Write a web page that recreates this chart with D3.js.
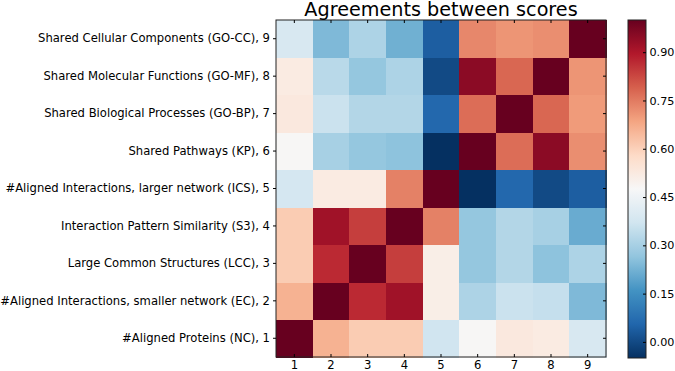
<!DOCTYPE html>
<html>
<head>
<meta charset="utf-8">
<script src="https://cdn.jsdelivr.net/npm/d3@7"></script>
<style>
  html, body { margin: 0; padding: 0; background: #fff; }
  svg { display: block; font-family: "DejaVu Sans", sans-serif; }
</style>
</head>
<body>
<svg id="chart" width="675" height="371"></svg>
<script>
// Row/column labels (index 1..9)
const labels = [
  "#Aligned Proteins (NC), 1",
  "#Aligned Interactions, smaller network (EC), 2",
  "Large Common Structures (LCC), 3",
  "Interaction Pattern Similarity (S3), 4",
  "#Aligned Interactions, larger network (ICS), 5",
  "Shared Pathways (KP), 6",
  "Shared Biological Processes (GO-BP), 7",
  "Shared Molecular Functions (GO-MF), 8",
  "Shared Cellular Components (GO-CC), 9"
];
const columnTicks = ["1", "2", "3", "4", "5", "6", "7", "8", "9"];

// Agreement values, one array per row (columns 1..9)
const row1 = [1.00, 0.66, 0.61, 0.61, 0.37, 0.48, 0.53, 0.52, 0.39];
const row2 = [0.66, 1.00, 0.87, 0.92, 0.51, 0.31, 0.36, 0.35, 0.24];
const row3 = [0.61, 0.87, 1.00, 0.84, 0.51, 0.27, 0.32, 0.26, 0.31];
const row4 = [0.61, 0.92, 0.84, 1.00, 0.74, 0.27, 0.32, 0.30, 0.21];
const row5 = [0.38, 0.52, 0.52, 0.74, 1.00, -0.05, 0.06, 0.00, 0.04];
const row6 = [0.48, 0.30, 0.27, 0.26, -0.05, 1.00, 0.77, 0.95, 0.72];
const row7 = [0.53, 0.36, 0.32, 0.32, 0.06, 0.77, 1.00, 0.78, 0.70];
const row8 = [0.52, 0.33, 0.27, 0.31, 0.00, 0.95, 0.78, 1.00, 0.71];
const row9 = [0.39, 0.24, 0.31, 0.22, 0.04, 0.73, 0.71, 0.72, 1.00];
const rows = [row1, row2, row3, row4, row5, row6, row7, row8, row9];

const colorTicks = [0.00, 0.15, 0.30, 0.45, 0.60, 0.75, 0.90];
const vmin = -0.05, vmax = 1.0;

// matplotlib RdBu_r (piecewise linear through ColorBrewer stops)
const rdbuR = ["#053061","#2166ac","#4393c3","#92c5de","#d1e5f0","#f7f7f7",
               "#fddbc7","#f4a582","#d6604d","#b2182b","#67001f"];
const cmap = d3.scaleLinear()
  .domain(d3.range(11).map(i => vmin + (vmax - vmin) * i / 10))
  .range(rdbuR)
  .interpolate(d3.interpolateRgb)
  .clamp(true);

const svg = d3.select("#chart");
const L = 276, R = 606, T = 20, B = 357;

const cells = [];
rows.forEach((r, i) => r.forEach((v, j) => cells.push({row: i, col: j, v})));

const x = d3.scaleBand().domain(d3.range(9)).range([L, R]).padding(0);
const y = d3.scaleBand().domain(d3.range(9)).range([B, T]).padding(0);

svg.append("g").selectAll("rect").data(cells).join("rect")
  .attr("x", d => x(d.col))
  .attr("y", d => y(d.row))
  .attr("width", x.bandwidth() + 0.5)
  .attr("height", y.bandwidth() + 0.5)
  .attr("fill", d => cmap(d.v))
  .attr("shape-rendering", "crispEdges");

// frame
svg.append("rect").attr("x", L).attr("y", T).attr("width", R - L).attr("height", B - T)
  .attr("fill", "none").attr("stroke", "#222").attr("stroke-width", 1);

const fs = 11.6;
// bottom axis (inward ticks)
const xAxis = d3.axisBottom(x).tickFormat(i => columnTicks[i]).tickSizeInner(-3).tickSizeOuter(0).tickPadding(4);
const gx = svg.append("g").attr("transform", `translate(0,${B})`).call(xAxis);
gx.select(".domain").remove();
gx.selectAll("text").attr("font-size", fs).attr("fill", "#000").attr("font-family", "DejaVu Sans");
gx.selectAll("line").attr("stroke", "#000");

// top ticks (inward)
const xTop = d3.axisTop(x).tickFormat("").tickSizeInner(-3).tickSizeOuter(0);
const gxt = svg.append("g").attr("transform", `translate(0,${T})`).call(xTop);
gxt.select(".domain").remove();
gxt.selectAll("line").attr("stroke", "#000");

// left axis
const yAxis = d3.axisLeft(y).tickFormat(i => labels[i]).tickSizeInner(3).tickSizeOuter(0).tickPadding(3);
const gy = svg.append("g").attr("transform", `translate(${L},0)`).call(yAxis);
gy.select(".domain").remove();
gy.selectAll("text").attr("font-size", fs).attr("fill", "#000").attr("font-family", "DejaVu Sans");
gy.selectAll("line").attr("stroke", "#000");

// right ticks inward
const yRight = d3.axisRight(y).tickFormat("").tickSizeInner(-3).tickSizeOuter(0);
const gyr = svg.append("g").attr("transform", `translate(${R},0)`).call(yRight);
gyr.select(".domain").remove();
gyr.selectAll("line").attr("stroke", "#000");

// title
svg.append("text").attr("x", (L + R) / 2).attr("y", 15.5)
  .attr("text-anchor", "middle").attr("font-size", 19.2).attr("fill", "#000")
  .text("Agreements between scores");

// colorbar
const CL = 628, CR = 646, CT = 20, CB = 358;
const cy = d3.scaleLinear().domain([vmin, vmax]).range([CB, CT]);
const defs = svg.append("defs");
const grad = defs.append("linearGradient").attr("id", "cbar")
  .attr("x1", 0).attr("y1", 1).attr("x2", 0).attr("y2", 0);
d3.range(0, 1.0001, 0.02).forEach(t => {
  grad.append("stop").attr("offset", t).attr("stop-color", cmap(vmin + t * (vmax - vmin)));
});
svg.append("rect").attr("x", CL).attr("y", CT).attr("width", CR - CL).attr("height", CB - CT)
  .attr("fill", "url(#cbar)").attr("stroke", "#222").attr("stroke-width", 1);

const cAxis = d3.axisRight(cy).tickValues(colorTicks).tickFormat(d3.format(".2f"))
  .tickSizeInner(-3).tickSizeOuter(0).tickPadding(3.5);
const gc = svg.append("g").attr("transform", `translate(${CR},0)`).call(cAxis);
gc.select(".domain").remove();
gc.selectAll("text").attr("font-size", 11.2).attr("fill", "#000").attr("font-family", "DejaVu Sans");
gc.selectAll("line").attr("stroke", "#000");
</script>
</body>
</html>
